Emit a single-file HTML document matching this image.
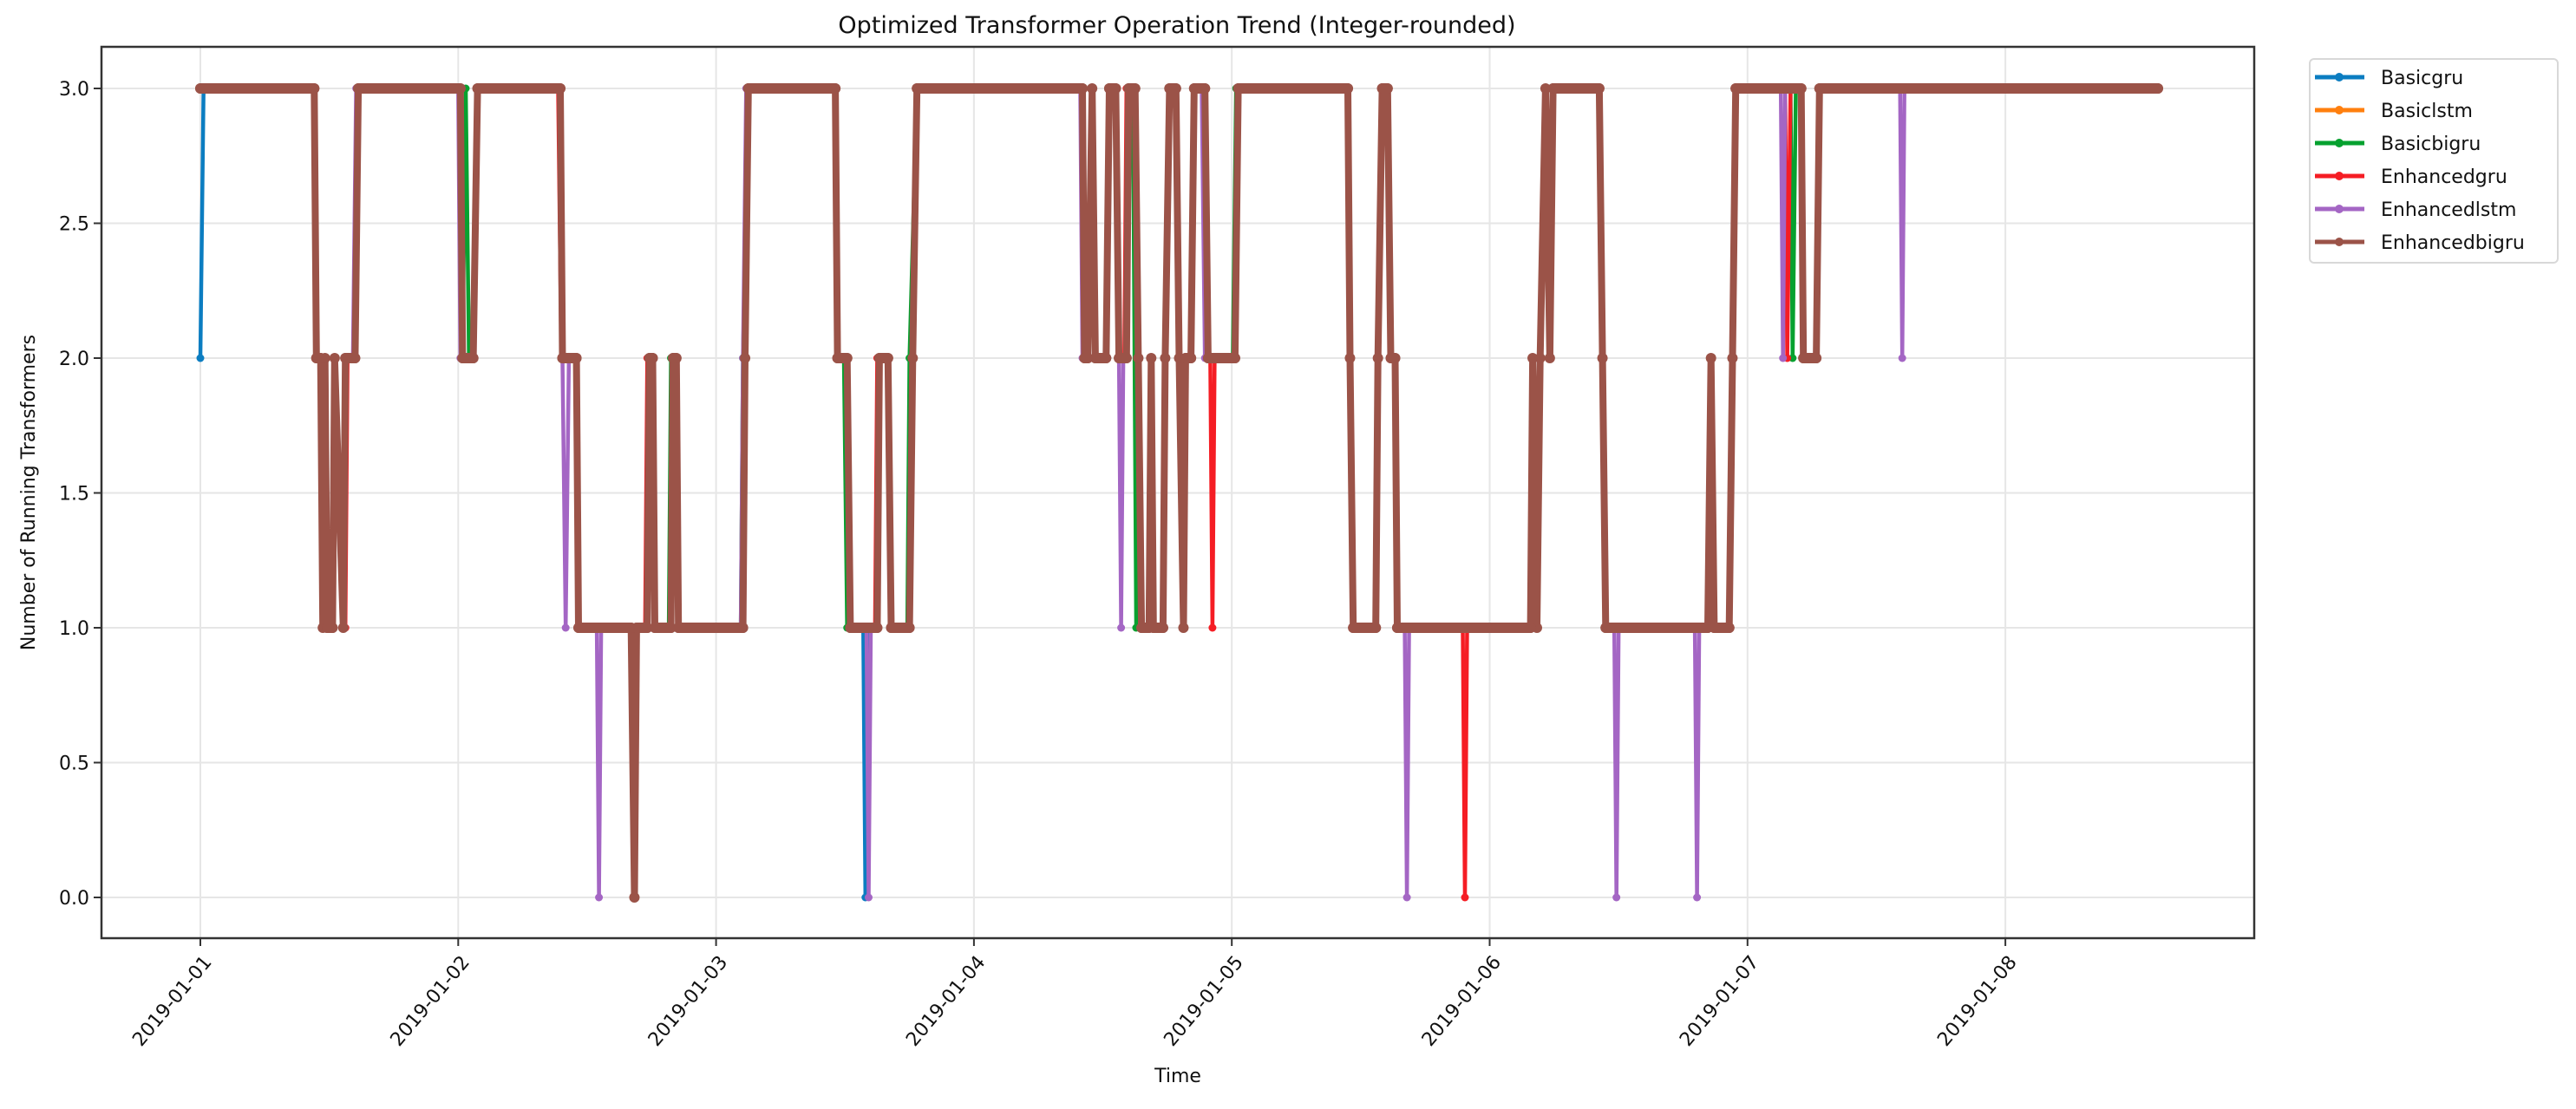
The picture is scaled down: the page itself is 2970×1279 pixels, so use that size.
<!DOCTYPE html>
<html><head><meta charset="utf-8"><style>
html,body{margin:0;padding:0;background:#fff;}
svg{display:block;font-family:"DejaVu Sans","Liberation Sans",sans-serif;}
</style></head><body>
<svg id="chart" width="2970" height="1279" viewBox="0 0 2970 1279">
<rect width="2970" height="1279" fill="#fff"/>
<text x="1357" y="38" font-size="27" text-anchor="middle" fill="#111">Optimized Transformer Operation Trend (Integer-rounded)</text>
<g id="grid"></g>
<g id="series"></g>
<rect x="117" y="54" width="2482" height="1028" fill="none" stroke="#333" stroke-width="2.5"/>
<g id="axes"></g>
<text transform="translate(40,568) rotate(-90)" font-size="22" text-anchor="middle" fill="#111">Number of Running Transformers</text>
<text x="1358" y="1248" font-size="22" text-anchor="middle" fill="#111">Time</text>
<g id="legend"></g>
</svg>
<script>
const xTickLabels = ["2019-01-01","2019-01-02","2019-01-03","2019-01-04","2019-01-05","2019-01-06","2019-01-07","2019-01-08"];
const xTickHours = [0,24,48,72,96,120,144,168];
const yTicks = [0,0.5,1,1.5,2,2.5,3];
const seriesNames = ["Basicgru","Basiclstm","Basicbigru","Enhancedgru","Enhancedlstm","Enhancedbigru"];
const seriesColors = ["#0b7dc1","#ff7f0e","#06a12f","#f51d24","#a466c4","#9b5348"];

// [hour since 2019-01-01 00:00, value]
const enhancedbigru = [[0,3],[10.6,3],[10.8,2],[11.2,2],[11.4,1],[11.6,2],[11.8,1],[12.3,1],[12.5,2],[13.3,1],[13.5,2],[14.4,2],[14.7,3],[24.2,3],[24.4,2],[25.4,2],[25.8,3],[33.5,3],[33.7,2],[35.0,2],[35.2,1],[40.1,1],[40.4,0],[40.6,1],[41.6,1],[41.8,2],[42.1,2],[42.3,1],[43.8,1],[44.0,2],[44.3,2],[44.5,1],[50.5,1],[50.7,2],[51.0,3],[59.1,3],[59.3,2],[60.2,2],[60.5,1],[63.0,1],[63.2,2],[64.0,2],[64.3,1],[66.0,1],[66.3,2],[66.7,3],[82.1,3],[82.3,2],[82.6,2],[83.0,3],[83.3,2],[84.3,2],[84.6,3],[85.2,3],[85.5,2],[86.2,2],[86.4,3],[87.0,3],[87.3,2],[87.6,1],[88.3,1],[88.5,2],[88.7,1],[89.6,1],[89.8,2],[90.2,3],[90.8,3],[91.1,2],[91.5,1],[91.7,2],[92.2,2],[92.5,3],[93.5,3],[93.8,2],[96.3,2],[96.6,3],[106.8,3],[107.0,2],[107.3,1],[109.4,1],[109.6,2],[110.0,3],[110.5,3],[110.8,2],[111.2,2],[111.4,1],[123.8,1],[124.0,2],[124.4,1],[124.7,2],[125.2,3],[125.6,2],[125.9,3],[130.2,3],[130.5,2],[130.8,1],[140.3,1],[140.6,2],[140.9,1],[142.3,1],[142.6,2],[142.9,3],[149.0,3],[149.2,2],[150.4,2],[150.7,3],[182.2,3]];

const basicgru = [[0,2],[0.3,3],[10.6,3],[10.8,2],[11.2,2],[11.4,1],[11.6,2],[11.8,1],[12.3,1],[12.5,2],[13.3,1],[13.5,2],[14.4,2],[14.7,3],[24.2,3],[24.4,2],[25.4,2],[25.8,3],[33.5,3],[33.7,2],[35.0,2],[35.2,1],[40.1,1],[40.4,0],[40.6,1],[41.6,1],[41.8,2],[42.1,2],[42.3,1],[43.8,1],[44.0,2],[44.3,2],[44.5,1],[50.5,1],[50.7,2],[51.0,3],[59.1,3],[59.3,2],[60.2,2],[60.5,1],[61.7,1],[61.9,0],[62.2,1],[63.0,1],[63.2,2],[64.0,2],[64.3,1],[66.0,1],[66.3,2],[66.7,3],[82.1,3],[82.3,2],[82.6,2],[83.0,3],[83.3,2],[84.3,2],[84.6,3],[85.2,3],[85.5,2],[86.2,2],[86.4,3],[87.0,3],[87.3,2],[87.6,1],[88.3,1],[88.5,2],[88.7,1],[89.6,1],[89.8,2],[90.2,3],[90.8,3],[91.1,2],[91.5,1],[91.7,2],[92.2,2],[92.5,3],[93.5,3],[93.8,2],[96.3,2],[96.6,3],[106.8,3],[107.0,2],[107.3,1],[109.4,1],[109.6,2],[110.0,3],[110.5,3],[110.8,2],[111.2,2],[111.4,1],[123.8,1],[124.0,2],[124.4,1],[124.7,2],[125.2,3],[125.6,2],[125.9,3],[130.2,3],[130.5,2],[130.8,1],[140.3,1],[140.6,2],[140.9,1],[142.3,1],[142.6,2],[142.9,3],[149.0,3],[149.2,2],[150.4,2],[150.7,3],[182.2,3]];

const basiclstm = [[0,3],[10.6,3],[10.8,2],[11.2,2],[11.4,1],[11.6,2],[11.8,1],[12.3,1],[12.5,2],[13.3,1],[13.5,2],[14.4,2],[14.7,3],[24.2,3],[24.4,2],[25.4,2],[25.8,3],[33.5,3],[33.7,2],[35.0,2],[35.2,1],[40.1,1],[40.4,0],[40.6,1],[41.6,1],[41.8,2],[42.1,2],[42.3,1],[43.8,1],[44.0,2],[44.3,2],[44.5,1],[50.5,1],[50.7,2],[51.0,3],[59.1,3],[59.3,2],[60.2,2],[60.5,1],[63.0,1],[63.2,2],[64.0,2],[64.3,1],[66.0,1],[66.3,2],[66.7,3],[82.1,3],[82.3,2],[82.6,2],[83.0,3],[83.3,2],[84.3,2],[84.6,3],[85.2,3],[85.5,2],[86.2,2],[86.4,3],[87.0,3],[87.3,2],[87.6,1],[88.3,1],[88.5,2],[88.7,1],[89.6,1],[89.8,2],[90.2,3],[90.8,3],[91.1,2],[91.5,1],[91.7,2],[92.2,2],[92.5,3],[93.5,3],[93.8,2],[96.3,2],[96.6,3],[106.8,3],[107.0,2],[107.3,1],[109.4,1],[109.6,2],[110.0,3],[110.5,3],[110.8,2],[111.2,2],[111.4,1],[123.8,1],[124.0,2],[124.4,1],[124.7,2],[125.2,3],[125.6,2],[125.9,3],[130.2,3],[130.5,2],[130.8,1],[140.3,1],[140.6,2],[140.9,1],[142.3,1],[142.6,2],[142.9,3],[149.0,3],[149.2,2],[150.4,2],[150.7,3],[182.2,3]];

const basicbigru = [[0,3],[10.6,3],[10.8,2],[11.2,2],[11.4,1],[11.6,2],[11.8,1],[12.3,1],[12.5,2],[13.3,1],[13.5,2],[14.4,2],[14.7,3],[24.2,3],[24.4,2],[24.7,3],[25.0,2],[25.4,2],[25.8,3],[33.5,3],[33.7,2],[35.0,2],[35.2,1],[40.1,1],[40.4,0],[40.6,1],[41.6,1],[41.8,2],[42.1,2],[42.3,1],[43.6,1],[43.8,2],[44.3,2],[44.5,1],[50.3,1],[50.5,2],[51.0,3],[59.1,3],[59.3,2],[59.9,2],[60.2,1],[63.0,1],[63.2,2],[64.0,2],[64.3,1],[65.8,1],[66.0,2],[66.7,3],[82.1,3],[82.3,2],[82.6,2],[83.0,3],[83.3,2],[84.3,2],[84.6,3],[85.2,3],[85.5,2],[86.2,2],[86.4,3],[86.8,3],[87.1,1],[88.3,1],[88.5,2],[88.7,1],[89.6,1],[89.8,2],[90.2,3],[90.8,3],[91.1,2],[91.5,1],[91.7,2],[92.2,2],[92.5,3],[93.5,3],[93.8,2],[96.1,2],[96.4,3],[106.8,3],[107.0,2],[107.3,1],[109.4,1],[109.6,2],[110.0,3],[110.5,3],[110.8,2],[111.2,2],[111.4,1],[123.8,1],[124.0,2],[124.4,1],[124.7,2],[125.2,3],[125.6,2],[125.9,3],[130.2,3],[130.5,2],[130.8,1],[140.3,1],[140.6,2],[140.9,1],[142.3,1],[142.6,2],[142.9,3],[148.0,3],[148.2,2],[148.5,3],[149.0,3],[149.2,2],[150.4,2],[150.7,3],[182.2,3]];

const enhancedgru = [[0,3],[10.6,3],[10.8,2],[11.2,2],[11.4,1],[11.6,2],[11.8,1],[12.3,1],[12.5,2],[13.5,1],[13.7,2],[14.4,2],[14.7,3],[24.2,3],[24.4,2],[25.4,2],[25.8,3],[33.3,3],[33.6,2],[35.0,2],[35.2,1],[40.1,1],[40.4,0],[40.6,1],[41.4,1],[41.6,2],[42.1,2],[42.3,1],[43.8,1],[44.0,2],[44.3,2],[44.5,1],[50.5,1],[50.7,2],[51.0,3],[59.1,3],[59.3,2],[60.2,2],[60.5,1],[62.8,1],[63.0,2],[64.0,2],[64.3,1],[66.0,1],[66.3,2],[66.7,3],[82.1,3],[82.3,2],[82.6,2],[83.0,3],[83.3,2],[84.3,2],[84.6,3],[85.2,3],[85.5,2],[86.0,2],[86.2,3],[87.0,3],[87.3,2],[87.6,1],[88.3,1],[88.5,2],[88.7,1],[89.6,1],[89.8,2],[90.2,3],[90.8,3],[91.1,2],[91.5,1],[91.7,2],[92.2,2],[92.5,3],[93.5,3],[93.8,2],[94.0,2],[94.2,1],[94.4,2],[96.3,2],[96.6,3],[106.8,3],[107.0,2],[107.3,1],[109.4,1],[109.6,2],[110.0,3],[110.5,3],[110.8,2],[111.2,2],[111.4,1],[117.5,1],[117.7,0],[117.9,1],[123.8,1],[124.0,2],[124.4,1],[124.7,2],[125.2,3],[125.6,2],[125.9,3],[130.2,3],[130.5,2],[130.8,1],[140.3,1],[140.6,2],[140.9,1],[142.3,1],[142.6,2],[142.9,3],[147.5,3],[147.7,2],[148.0,3],[149.0,3],[149.2,2],[150.4,2],[150.7,3],[182.2,3]];

const enhancedlstm = [[0,3],[10.6,3],[10.8,2],[11.2,2],[11.4,1],[11.6,2],[11.8,1],[12.3,1],[12.5,2],[13.3,1],[13.5,2],[14.2,2],[14.5,3],[24.0,3],[24.2,2],[25.4,2],[25.8,3],[33.5,3],[33.7,2],[34.0,1],[34.3,2],[35.0,2],[35.2,1],[36.9,1],[37.1,0],[37.3,1],[40.1,1],[40.4,0],[40.6,1],[41.6,1],[41.8,2],[42.1,2],[42.3,1],[43.8,1],[44.0,2],[44.3,2],[44.5,1],[50.3,1],[50.5,2],[50.8,3],[59.1,3],[59.3,2],[60.2,2],[60.5,1],[62.0,1],[62.2,0],[62.4,1],[63.0,1],[63.2,2],[64.0,2],[64.3,1],[66.0,1],[66.3,2],[66.7,3],[81.9,3],[82.1,2],[82.6,2],[83.0,3],[83.3,2],[84.3,2],[84.6,3],[85.2,3],[85.5,2],[85.7,1],[85.9,2],[86.2,2],[86.4,3],[87.0,3],[87.3,2],[87.6,1],[88.3,1],[88.5,2],[88.7,1],[89.6,1],[89.8,2],[90.2,3],[90.8,3],[91.1,2],[91.5,1],[91.7,2],[92.2,2],[92.5,3],[93.2,3],[93.5,2],[96.3,2],[96.6,3],[106.8,3],[107.0,2],[107.3,1],[109.4,1],[109.6,2],[110.0,3],[110.5,3],[110.8,2],[111.2,2],[111.4,1],[112.1,1],[112.3,0],[112.5,1],[123.8,1],[124.0,2],[124.4,1],[124.7,2],[125.2,3],[125.6,2],[125.9,3],[130.2,3],[130.5,2],[130.8,1],[131.6,1],[131.8,0],[132.0,1],[139.1,1],[139.3,0],[139.5,1],[140.3,1],[140.6,2],[140.9,1],[142.3,1],[142.6,2],[142.9,3],[147.1,3],[147.3,2],[147.5,3],[149.0,3],[149.2,2],[150.4,2],[150.7,3],[158.2,3],[158.4,2],[158.6,3],[182.2,3]];

const seriesData = [basicgru,basiclstm,basicbigru,enhancedgru,enhancedlstm,enhancedbigru];

const NS = "http://www.w3.org/2000/svg";
const plot = {left:117, right:2599, top:54, bottom:1082};
const xOrigin = 231, pxPerHour = 297.3/24;
const y0 = 1035, pxPerUnit = 311;
function xScale(h){ return xOrigin + h*pxPerHour; }
function yScale(v){ return y0 - v*pxPerUnit; }
function mk(tag, attrs, parent){
  const el = document.createElementNS(NS, tag);
  for (const k in attrs) el.setAttribute(k, attrs[k]);
  parent.appendChild(el);
  return el;
}
const grid = document.getElementById('grid');
const axes = document.getElementById('axes');
xTickHours.forEach((h,i)=>{
  const x = xScale(h);
  const gl = mk('line',{x1:x,x2:x,y1:plot.top,y2:plot.bottom,stroke:'#e6e6e6','stroke-width':2},grid);
  
  
  const tk = mk('line',{x1:x,x2:x,y1:plot.bottom,y2:plot.bottom+9,stroke:'#333','stroke-width':2},axes);
  
  
  const t = mk('text',{transform:`translate(${x+14},${plot.bottom+28}) rotate(-50)`,'font-size':22,'text-anchor':'end',fill:'#111'},axes);
  t.textContent = xTickLabels[i];
  
  
});
yTicks.forEach(v=>{
  const y = yScale(v);
  const gl = mk('line',{x1:plot.left,x2:plot.right,y1:y,y2:y,stroke:'#e6e6e6','stroke-width':2},grid);
  
  
  const tk = mk('line',{x1:plot.left-9,x2:plot.left,y1:y,y2:y,stroke:'#333','stroke-width':2},axes);
  
  
  const t = mk('text',{x:plot.left-14,y:y+8,'font-size':22,'text-anchor':'end',fill:'#111'},axes);
  t.textContent = v.toFixed(1);
  
  
});
const sl = document.getElementById('series');
seriesNames.forEach((name,i)=>{
  const g = mk('g',{},sl);
  
  
  const brown = i===5;
  const data = seriesData[i];
  const pts = data.map(d=>xScale(d[0]).toFixed(1)+','+yScale(d[1]).toFixed(1)).join(' ');
  const pl = mk('polyline',{points:pts,fill:'none',stroke:seriesColors[i],'stroke-width':brown?8:4.5,'stroke-linejoin':'round'},g);
  
  
  data.forEach(d=>{
    const c = mk('circle',{cx:xScale(d[0]),cy:yScale(d[1]),r:brown?6:4.5,fill:seriesColors[i]},g);
    
    
  });
  if (brown) {
    for (let j=0;j<data.length-1;j++){
      if (data[j][1]===data[j+1][1]){
        const ln = mk('line',{x1:xScale(data[j][0]),x2:xScale(data[j+1][0]),y1:yScale(data[j][1]),y2:yScale(data[j][1]),stroke:seriesColors[i],'stroke-width':12,'stroke-linecap':'round'},g);
        
        
      }
    }
  }
});
const lg = document.getElementById('legend');
const box = mk('rect',{x:2663,y:68,width:286,height:235,rx:5,fill:'#fff',stroke:'#d8d8d8','stroke-width':2},lg);


seriesNames.forEach((name,i)=>{
  const y = 89 + i*38;
  const g = mk('g',{},lg);
  
  
  mk('line',{x1:2669,x2:2726,y1:y,y2:y,stroke:seriesColors[i],'stroke-width':5},g);
  mk('circle',{cx:2697,cy:y,r:5,fill:seriesColors[i]},g);
  const t = mk('text',{x:2745,y:y+8,'font-size':22,fill:'#111'},g);
  t.textContent = name;
  
  
});
</script>
</body></html>
